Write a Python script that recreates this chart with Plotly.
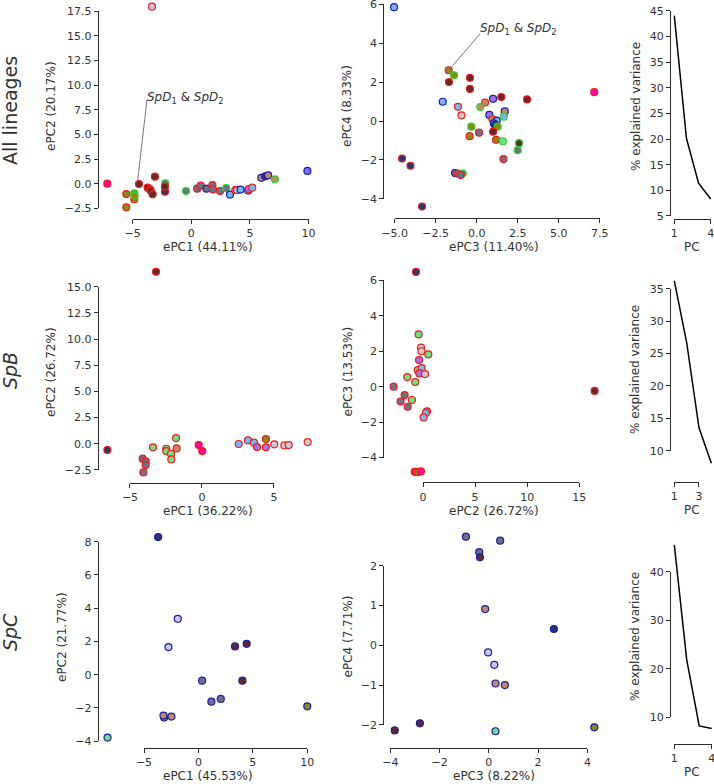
import plotly.graph_objects as go

# ---------------- data ----------------
# Row 1 : all lineages, ePC1 vs ePC2
all_pc1 = [-3.35, -7.16, -5.54, -5.54, -4.86, -4.86, -4.84, -4.46, -3.72, -3.52,
           -3.45, -3.29, -3.1, -2.22, -2.24, -2.25, -0.45, 0.5, 0.8, 1.3,
           1.8, 1.85, 2.45, 2.98, 3.3, 3.75, 3.9, 4.2, 4.85, 4.9,
           5.2, 5.97, 6.3, 6.55, 7.13, 9.9]
all_pc2 = [17.97, 0.0, -1.05, -2.4, -0.98, -1.58, -1.25, -0.03, -0.4, -0.57,
           -0.75, -1.08, 0.71, 0.04, -0.81, -0.3, -0.75, -0.5, -0.2, -0.5,
           -0.15, -0.6, -0.75, -0.45, -1.1, -0.65, -0.65, -0.6, -0.7, -0.55,
           -0.4, 0.6, 0.75, 0.85, 0.45, 1.3]
all_lin12 = ['lgray', 'magenta', 'olive', 'olive', 'olive', 'olive', 'olive', 'dbrown', 'dbrown', 'dbrown',
             'dbrown', 'dbrown', 'dbrown', 'gray', 'navy', 'dbrown', 'gray', 'gray', 'gray', 'gray',
             'gray', 'gray', 'gray', 'gray', 'lblue', 'purple', 'lgray', 'lblue', 'lavender', 'purple',
             'lblue', 'tan', 'navy', 'tan', 'tan', 'violet']
all_grp12 = ['B', 'B', 'B', 'B', 'D', 'B', 'D', 'B', 'B', 'B',
             'B', 'B', 'B', 'D', 'B', 'B', 'D', 'B', 'B', 'C',
             'B', 'B', 'B', 'D', 'C', 'B', 'B', 'C', 'C', 'B',
             'B', 'C', 'C', 'C', 'D', 'C']

# Row 1 : all lineages, ePC3 vs ePC4
all_pc3 = [-5.04, -1.71, -1.38, -1.69, -0.41, -0.41, 1.5, 3.07, 0.51, 1.0,
           -2.07, -1.14, -0.93, 0.22, 0.77, 0.96, 1.22, 1.04, 1.12, 1.28,
           1.71, 1.65, -0.33, -0.43, 0.14, 1.0, 1.18, 1.59, 2.58, 2.5,
           1.63, -4.55, -4.04, -3.33, -1.32, -1.15, -0.85, -0.98, 7.17]
all_pc4 = [5.85, 2.61, 2.35, 2.0, 2.22, 1.65, 1.23, 1.11, 0.95, 1.14,
           0.99, 0.73, 0.29, 0.72, 0.31, 0.09, 0.02, -0.12, -0.2, -0.29,
           0.49, 0.22, -0.29, -0.78, -0.6, -0.55, -0.97, -1.04, -1.14, -1.5,
           -1.96, -1.93, -2.3, -4.4, -2.68, -2.7, -2.7, -2.78, 1.48]
all_lin34 = ['lblue', 'olive', 'olive', 'dbrown', 'dbrown', 'dbrown', 'dbrown', 'dbrown', 'tan', 'purple',
             'lblue', 'lblue', 'lgray', 'tan', 'purple', 'tan', 'lblue', 'tan', 'navy', 'olive',
             'tan', 'lblue', 'olive', 'olive', 'gray', 'dbrown', 'olive', 'lgreen', 'dbrown', 'gray',
             'gray', 'navy', 'navy', 'navy', 'gray', 'gray', 'gray', 'gray', 'magenta']
all_grp34 = ['C', 'B', 'D', 'B', 'B', 'B', 'B', 'B', 'B', 'C',
             'C', 'B', 'B', 'D', 'C', 'B', 'C', 'C', 'C', 'D',
             'C', 'D', 'D', 'B', 'B', 'B', 'B', 'D', 'D', 'D',
             'B', 'B', 'B', 'B', 'C', 'B', 'D', 'B', 'B']

# Row 2 : SpB, ePC1 vs ePC2
spb_pc1 = [-3.19, -6.57, -4.12, -3.91, -3.91, -4.07, -3.4, -2.48, -2.48, -2.15,
           -2.13, -1.8, -1.76, -0.23, 0.02, 2.55, 3.19, 3.61, 3.82, 4.44,
           4.44, 5.02, 5.72, 6.02, 7.34]
spb_pc2 = [16.43, -0.6, -1.43, -1.69, -2.04, -2.74, -0.35, -0.48, -0.7, -0.96,
           -1.5, 0.54, -0.45, -0.13, -0.7, -0.03, 0.32, 0.1, -0.32, 0.45,
           -0.35, -0.06, -0.16, -0.13, 0.16]
spb_lin12 = ['dbrown', 'navy', 'gray', 'gray', 'gray', 'gray', 'lgreen', 'lgreen', 'lgreen', 'lgreen',
             'lgreen', 'lgreen', 'tan', 'magenta', 'magenta', 'lblue', 'lblue', 'lblue', 'purple', 'olive',
             'purple', 'lgray', 'lgray', 'lgray', 'lgray']

# Row 2 : SpB, ePC2 vs ePC3
spb_b_pc2 = [-0.67, -0.42, -0.19, -0.15, 0.51, -0.38, -0.5, -0.13, -0.35, 0.19,
             -1.51, -0.74, -2.82, -1.76, -2.15, -1.47, -1.06, 0.38, 0.28, 0.06,
             -0.8, -0.65, -0.5, -0.2, 16.47]
spb_b_pc3 = [6.47, 2.95, 2.2, 2.0, 1.82, 1.5, 0.94, 1.05, 0.75, 0.71,
             0.54, 0.26, 0.0, -0.47, -0.84, -1.13, -0.75, -1.39, -1.48, -1.73,
             -4.8, -4.8, -4.82, -4.78, -0.24]
spb_lin23 = ['navy', 'lgreen', 'lgray', 'lgray', 'lgreen', 'purple', 'lgreen', 'lblue', 'purple', 'lgray',
             'lgreen', 'lgreen', 'gray', 'gray', 'gray', 'gray', 'lgreen', 'lblue', 'lblue', 'lblue',
             'magenta', 'tan', 'olive', 'magenta', 'dbrown']

# Row 3 : SpC, ePC1 vs ePC2
spc_pc1 = [-3.7, -1.9, -2.75, 3.36, 4.43, 4.04, 0.34, 1.19, 2.05, -3.15, -3.21, -2.48, 10.0, -8.35]
spc_pc2 = [8.28, 3.36, 1.66, 1.7, 1.86, -0.36, -0.36, -1.62, -1.46, -2.58, -2.46, -2.52, -1.9, -3.78]
spc_lin12 = ['navy', 'lavender', 'lavender', 'dbrown', 'dbrown', 'dbrown', 'gray', 'gray', 'gray',
             'gray', 'tan', 'tan', 'olive', 'lgreen']

# Row 3 : SpC, ePC3 vs ePC4
spc_pc3 = [-0.93, 0.46, -0.39, -0.36, -0.15, 2.64, -0.03, 0.22, 0.27, 0.65, -3.82, -2.8, 0.27, 4.28]
spc_pc4 = [2.73, 2.63, 2.34, 2.21, 0.91, 0.41, -0.18, -0.49, -0.96, -1.0, -2.14, -1.96, -2.16, -2.06]
spc_lin34 = ['gray', 'gray', 'gray', 'dbrown', 'tan', 'navy', 'lavender', 'lavender', 'tan', 'tan',
             'dbrown', 'dbrown', 'lgreen', 'olive']

# Scree plots
pcs = [1, 2, 3, 4]
var_all = [44.11, 20.17, 11.40, 8.33]
var_spb = [36.22, 26.72, 13.53, 8.05]
var_spc = [45.53, 21.77, 8.22, 7.71]

# Tick values / labels
t_a12_x = [-5, 0, 5, 10]
t_a12_y = [-2.5, 0.0, 2.5, 5.0, 7.5, 10.0, 12.5, 15.0, 17.5]
t_a34_x = [-5.0, -2.5, 0.0, 2.5, 5.0, 7.5]
t_a34_y = [-4, -2, 0, 2, 4, 6]
t_as_x = [1, 4]
t_as_y = [5, 10, 15, 20, 25, 30, 35, 40, 45]
t_b12_x = [-5, 0, 5]
t_b12_y = [-2.5, 0.0, 2.5, 5.0, 7.5, 10.0, 12.5, 15.0]
t_b23_x = [0, 5, 10, 15]
t_b23_y = [-4, -2, 0, 2, 4, 6]
t_bs_x = [1, 3]
t_bs_y = [10, 15, 20, 25, 30, 35]
t_c12_x = [-5, 0, 5, 10]
t_c12_y = [-4, -2, 0, 2, 4, 6, 8]
t_c34_x = [-4, -2, 0, 2, 4]
t_c34_y = [-2, -1, 0, 1, 2]
t_cs_x = [1, 4]
t_cs_y = [10, 20, 30, 40]

# ---------------- style ----------------
W, H = 714, 784
FONT = 'DejaVu Sans'
TXT = '#333333'
LINE = '#2b2b2b'
FILL = {
    'lgray': '#c9c9d4', 'magenta': '#ff0a9c', 'olive': '#8a8a1a', 'dbrown': '#5e2b2b',
    'navy': '#243a6e', 'gray': '#6c7186', 'tan': '#c08c64', 'lblue': '#78b6f2',
    'purple': '#a374e6', 'lgreen': '#6fe07c', 'violet': '#7c6cf0', 'lavender': '#c6c8f0',
}
EDGE = {'B': '#ec1c1c', 'C': '#1c1ca8', 'D': '#2ed12e'}


def fmt(v, dec):
    s = f'{abs(v):.{dec}f}'
    return ('\u2212' + s) if v < 0 else s


def scatter(xs, ys, lin, grp):
    return go.Scatter(
        x=xs, y=ys, mode='markers', cliponaxis=False, showlegend=False,
        marker=dict(size=7, color=[FILL[c] for c in lin],
                    line=dict(width=1.2, color=[EDGE[g] for g in grp])))


def scree(vals):
    return go.Scatter(x=pcs, y=vals, mode='lines', cliponaxis=False, showlegend=False,
                      line=dict(color='black', width=1.5))


# panel layout: (value, pixel) pairs for linear maps, ranges, ticks, spine positions
panels = [
    dict(tr=scatter(all_pc1, all_pc2, all_lin12, all_grp12),
         xmap=(0, 191.3, 10, 308.6), ymap=(0, 183.7, 17.5, 11.3),
         xr=[-7.8, 10.5], yr=[-3.2, 18.5], xt=t_a12_x, xd=0, yt=t_a12_y, yd=1,
         sx=97.7, ly=219),
    dict(tr=scatter(all_pc3, all_pc4, all_lin34, all_grp34),
         xmap=(0, 476.7, 5, 558.7), ymap=(0, 121, 6, 4.3),
         xr=[-5.6, 7.8], yr=[-4.9, 6.15], xt=t_a34_x, xd=1, yt=t_a34_y, yd=0,
         sx=383.3, ly=218.3),
    dict(tr=scree(var_all),
         xmap=(1, 674.3, 4, 710.7), ymap=(45, 11, 5, 216),
         xr=[0.9, 4.1], yr=[4, 46], xt=t_as_x, xd=0, yt=t_as_y, yd=0,
         sx=670, ly=219),
    dict(tr=scatter(spb_pc1, spb_pc2, spb_lin12, ['B'] * len(spb_pc1)),
         xmap=(-5, 130, 5, 274), ymap=(0, 443.7, 15, 286.7),
         xr=[-7.3, 7.9], yr=[-3.3, 17.0], xt=t_b12_x, xd=0, yt=t_b12_y, yd=1,
         sx=97.7, ly=482.7),
    dict(tr=scatter(spb_b_pc2, spb_b_pc3, spb_lin23, ['B'] * len(spb_b_pc2)),
         xmap=(0, 423, 15, 579.3), ymap=(0, 386.7, 6, 280.3),
         xr=[-4, 17.5], yr=[-5.3, 6.9], xt=t_b23_x, xd=0, yt=t_b23_y, yd=0,
         sx=383.3, ly=482.3),
    dict(tr=scree(var_spb),
         xmap=(1, 674.3, 3, 699), ymap=(35, 288.7, 10, 450.7),
         xr=[0.9, 4.1], yr=[7, 37], xt=t_bs_x, xd=0, yt=t_bs_y, yd=0,
         sx=670, ly=481.7),
    dict(tr=scatter(spc_pc1, spc_pc2, spc_lin12, ['C'] * len(spc_pc1)),
         xmap=(-5, 144, 10, 307.3), ymap=(0, 674.7, 8, 541.7),
         xr=[-9, 10.8], yr=[-4.5, 9], xt=t_c12_x, xd=0, yt=t_c12_y, yd=0,
         sx=97.7, ly=748),
    dict(tr=scatter(spc_pc3, spc_pc4, spc_lin34, ['C'] * len(spc_pc3)),
         xmap=(-4, 390.3, 4, 587.4), ymap=(0, 645.3, 2, 565.7),
         xr=[-4.2, 4.6], yr=[-2.6, 3.0], xt=t_c34_x, xd=0, yt=t_c34_y, yd=0,
         sx=383.3, ly=748),
    dict(tr=scree(var_spc),
         xmap=(1, 674.3, 4, 711.7), ymap=(40, 571.7, 10, 717.3),
         xr=[0.9, 4.1], yr=[5, 48], xt=t_cs_x, xd=0, yt=t_cs_y, yd=0,
         sx=670, ly=744),
]


def lin(v0, p0, v1, p1):
    return lambda v: p0 + (v - v0) * (p1 - p0) / (v1 - v0)


def aid(n, a):
    return a if n == 1 else f'{a}{n}'


def akey(n, a):
    return f'{a}axis' if n == 1 else f'{a}axis{n}'


fig = go.Figure()
layout = {}
tickfont = dict(family=FONT, size=11, color=TXT)
for i, P in enumerate(panels):
    nm, nt = 2 * i + 1, 2 * i + 2
    fx, fy = lin(*P['xmap']), lin(*P['ymap'])
    xr, yr = P['xr'], P['yr']
    layout[akey(nm, 'x')] = dict(visible=False, range=xr, anchor=aid(nm, 'y'), automargin=False,
                                 domain=[fx(xr[0]) / W, fx(xr[1]) / W])
    layout[akey(nm, 'y')] = dict(visible=False, range=yr, anchor=aid(nm, 'x'), automargin=False,
                                 domain=[1 - fy(yr[0]) / H, 1 - fy(yr[1]) / H])
    xt, yt = P['xt'], P['yt']
    ex = (xt[-1] - xt[0]) * 1e-4
    ey = (yt[-1] - yt[0]) * 1e-4
    common = dict(tickmode='array', ticks='outside', ticklen=4, tickwidth=1.2,
                  tickcolor=LINE, showline=True, linecolor=LINE, linewidth=1.2,
                  showgrid=False, zeroline=False, tickfont=tickfont, anchor='free',
                  automargin=False, ticklabeloverflow='allow')
    layout[akey(nt, 'x')] = dict(range=[xt[0] - ex, xt[-1] + ex],
                                 domain=[fx(xt[0] - ex) / W, fx(xt[-1] + ex) / W],
                                 position=1 - P['ly'] / H, tickvals=xt,
                                 ticktext=[fmt(v, P['xd']) for v in xt], **common)
    layout[akey(nt, 'y')] = dict(range=[yt[0] - ey, yt[-1] + ey],
                                 domain=[1 - fy(yt[0] - ey) / H, 1 - fy(yt[-1] + ey) / H],
                                 position=P['sx'] / W, tickvals=yt,
                                 ticktext=[fmt(v, P['yd']) for v in yt], **common)
    fig.add_trace(go.Scatter(x=[], y=[], xaxis=aid(nt, 'x'), yaxis=aid(nt, 'y'),
                             showlegend=False, hoverinfo='skip'))
    tr = P['tr']
    tr.update(xaxis=aid(nm, 'x'), yaxis=aid(nm, 'y'))
    fig.add_trace(tr)

ann = []
shapes = []


def text(px, py, s, size=12, angle=0, color=TXT):
    ann.append(dict(x=px / W, y=1 - py / H, xref='paper', yref='paper', text=s,
                    showarrow=False, textangle=angle, xanchor='center', yanchor='middle',
                    font=dict(family=FONT, size=size, color=color)))


# axis titles
for (xc, xtitle_y, xtitle), (yc, ytitle_y, ytitle) in [
    ((208, 247, 'ePC1 (44.11%)'), (51, 106, 'ePC2 (20.17%)')),
    ((494, 247, 'ePC3 (11.40%)'), (347, 106, 'ePC4 (8.33%)')),
    ((692, 247, 'PC'), (636, 107, '% explained variance')),
    ((208, 511, 'ePC1 (36.22%)'), (51, 372, 'ePC2 (26.72%)')),
    ((494, 511, 'ePC2 (26.72%)'), (347.5, 372, 'ePC3 (13.53%)')),
    ((692, 510, 'PC'), (635, 370, '% explained variance')),
    ((208, 776, 'ePC1 (45.53%)'), (62, 637, 'ePC2 (21.77%)')),
    ((494, 776, 'ePC3 (8.22%)'), (347.5, 637, 'ePC4 (7.71%)')),
    ((692, 772, 'PC'), (635, 637, '% explained variance')),
]:
    text(xc, xtitle_y, xtitle)
    text(yc, ytitle_y, ytitle, angle=-90)

# row labels
text(10, 111, 'All lineages', size=19, angle=-90)
text(10, 371, '<i>SpB</i>', size=19, angle=-90)
text(10, 632, '<i>SpC</i>', size=19, angle=-90)

# SpD annotations: connector line + label at the line's tail
spd = '<i>SpD</i><sub>1</sub> &amp; <i>SpD</i><sub>2</sub>'
for xr_, yr_, hx, hy, tx, ty, dy in [('x', 'y', -4.6, 0.05, -3.78, 8.5, -8),
                                      ('x3', 'y3', -1.67, 2.64, 0.2, 4.48, -5)]:
    shapes.append(dict(type='line', xref=xr_, yref=yr_, x0=hx, y0=hy, x1=tx, y1=ty,
                       line=dict(color='#555555', width=0.8)))
    ann.append(dict(xref=xr_, yref=yr_, x=tx, y=ty, text=spd, showarrow=False,
                    xanchor='left', yanchor='bottom', xshift=-2, yshift=dy,
                    font=dict(family=FONT, size=12, color=TXT)))

fig.update_layout(width=W, height=H,
                  margin=dict(l=0, r=0, t=0, b=0, pad=0, autoexpand=False),
                  paper_bgcolor='white', plot_bgcolor='rgba(0,0,0,0)',
                  font=dict(family=FONT, color=TXT), annotations=ann, shapes=shapes,
                  **layout)
fig.write_html('out.html', config={'displayModeBar': False},
               post_script="document.body.style.margin='0';document.body.style.padding='0';")
